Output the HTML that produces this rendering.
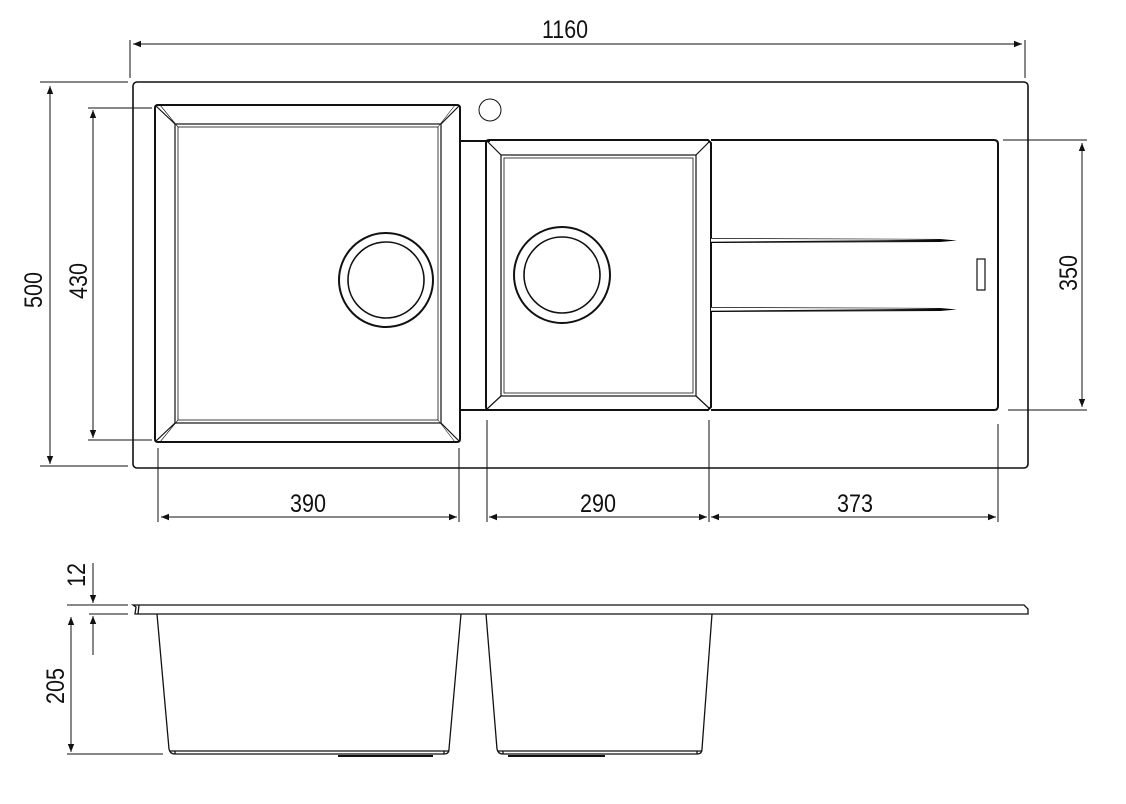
<!DOCTYPE html>
<html><head><meta charset="utf-8"><style>
html,body{margin:0;padding:0;background:#fff;}
svg{display:block;}
text{font-family:"Liberation Sans",sans-serif;font-size:25px;fill:#111;}
</style></head><body>
<svg width="1126" height="804" viewBox="0 0 1126 804" xmlns="http://www.w3.org/2000/svg">
<defs>
<marker id="a" viewBox="0 0 10 10" refX="10" refY="5" markerWidth="14" markerHeight="8" markerUnits="userSpaceOnUse" orient="auto-start-reverse"><path d="M0,1 L10,5 L0,9 z" fill="#111"/></marker>
<linearGradient id="g" x1="0" x2="1"><stop offset="0" stop-color="#000"/><stop offset="0.7" stop-color="#222"/><stop offset="1" stop-color="#000"/></linearGradient>
</defs>
<g fill="none" stroke="#111">
<rect x="133" y="82" width="895" height="386" rx="4" stroke-width="1.6"/>
<path d="M158,105 L457,105 Q460,105 460,108 L460,439 Q460,442 457,442 L158,442 Q155,442 155,439 L155,108 Q155,105 158,105 Z" stroke-width="2"/>
<rect x="175" y="124" width="266" height="299" stroke-width="1.2"/>
<rect x="178" y="127" width="260" height="293" stroke-width="0.8"/>
<path d="M156,106 L175,124 M459,106 L441,124 M156,441 L175,423 M459,441 L441,423" stroke-width="1.2"/>
<path d="M160,105 L178,127 M455,105 L438,127 M160,442 L178,420 M455,442 L438,420" stroke-width="0.6"/>
<circle cx="386" cy="280" r="47" stroke-width="2"/>
<circle cx="386" cy="280" r="38" stroke-width="1.6"/>
<circle cx="490" cy="110" r="11" stroke-width="1"/>
<path d="M460,141 L490,141 M460,410 L490,410" stroke-width="2"/>
<path d="M489,140 L708,140 L711,143 L711,407 L708,410 L489,410 Q486,410 486,407 L486,143 Q486,140 489,140 Z" stroke-width="2"/>
<rect x="501" y="155" width="195" height="241" stroke-width="1.2"/>
<rect x="504" y="158" width="189" height="235" stroke-width="0.8"/>
<path d="M487,141 L501,155 M710,141 L696,155 M487,409 L501,396 M710,409 L696,396" stroke-width="1.2"/>
<circle cx="562" cy="275" r="48" stroke-width="2"/>
<circle cx="562" cy="275" r="38" stroke-width="1.6"/>
<path d="M711,140 L994,140 Q998,140 998,144 L998,406 Q998,410 994,410 L711,410" stroke-width="2"/>
<rect x="977" y="259" width="8" height="31" stroke-width="1.2"/>
</g>
<path d="M711,238 L940,239 L957,240.5 L940,242 L711,243 Z" fill="url(#g)"/>
<path d="M711,238.8 L940,239.6 L711,241.8 Z" fill="#fff"/>
<path d="M711,307 L940,308 L957,309.5 L940,311 L711,312 Z" fill="url(#g)"/>
<path d="M711,307.8 L940,308.6 L711,310.8 Z" fill="#fff"/>

<g stroke="#111" stroke-width="1" fill="none">
<path d="M130,40 V78 M1025,40 V78"/>
<line x1="133" y1="44" x2="1022" y2="44" marker-start="url(#a)" marker-end="url(#a)"/>
<path d="M40,82 H128 M40,466 H128"/>
<line x1="50" y1="86" x2="50" y2="464" marker-start="url(#a)" marker-end="url(#a)"/>
<path d="M88,108 H152 M88,440 H152"/>
<line x1="93" y1="110" x2="93" y2="438" marker-start="url(#a)" marker-end="url(#a)"/>
<path d="M1003,140 H1087 M1008,410 H1087"/>
<line x1="1082" y1="143" x2="1082" y2="407" marker-start="url(#a)" marker-end="url(#a)"/>
<path d="M158,448 V522 M459,448 V522 M487,420 V522 M709,420 V522 M998,424 V522"/>
<line x1="161" y1="517" x2="457" y2="517" marker-start="url(#a)" marker-end="url(#a)"/>
<line x1="489" y1="517" x2="707" y2="517" marker-start="url(#a)" marker-end="url(#a)"/>
<line x1="711" y1="517" x2="996" y2="517" marker-start="url(#a)" marker-end="url(#a)"/>
<path d="M67,605 H128 M89,614 H128 M67,754 H163"/>
<line x1="93" y1="563" x2="93" y2="603" marker-end="url(#a)"/>
<line x1="93" y1="655" x2="93" y2="616" marker-end="url(#a)"/>
<line x1="71" y1="617" x2="71" y2="752" marker-start="url(#a)" marker-end="url(#a)"/>
</g>
<g stroke="#111" stroke-width="1.3" fill="none">
<path d="M133,605 L1024,605 L1028,609 L1028,614 L135,614 L136,607 Z"/>
<path d="M139,605 L138,614"/>
<path d="M157,614 L169,749 Q170,754 175,754 L444,754 Q449,754 449,749 L461,614"/>
<path d="M170,751 H449 M175,751 V754 M444,751 V754"/>
<path d="M486,614 L497,749 Q498,754 503,754 L697,754 Q702,754 702,749 L712,614"/>
<path d="M498,751 H702 M503,751 V754 M697,751 V754"/>
<path d="M338,756 H433 M508,756 H605" stroke-width="2"/>
</g>
<text x="565" y="38" text-anchor="middle" textLength="46" lengthAdjust="spacingAndGlyphs">1160</text>
<text x="308" y="512" text-anchor="middle" textLength="36" lengthAdjust="spacingAndGlyphs">390</text>
<text x="598" y="512" text-anchor="middle" textLength="36" lengthAdjust="spacingAndGlyphs">290</text>
<text x="855" y="512" text-anchor="middle" textLength="36" lengthAdjust="spacingAndGlyphs">373</text>
<text transform="translate(42,290) rotate(-90)" text-anchor="middle" textLength="36" lengthAdjust="spacingAndGlyphs">500</text>
<text transform="translate(87,281) rotate(-90)" text-anchor="middle" textLength="36" lengthAdjust="spacingAndGlyphs">430</text>
<text transform="translate(1077,273) rotate(-90)" text-anchor="middle" textLength="36" lengthAdjust="spacingAndGlyphs">350</text>
<text transform="translate(85,575) rotate(-90)" text-anchor="middle" textLength="24" lengthAdjust="spacingAndGlyphs">12</text>
<text transform="translate(64,686) rotate(-90)" text-anchor="middle" textLength="36" lengthAdjust="spacingAndGlyphs">205</text>
</svg>
</body></html>
